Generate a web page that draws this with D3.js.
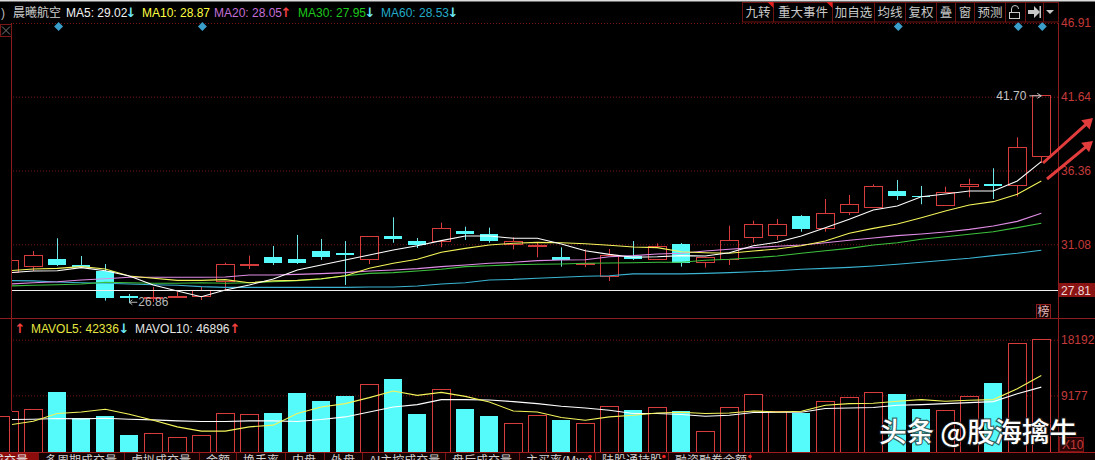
<!DOCTYPE html>
<html>
<head>
<meta charset="utf-8">
<script src="https://cdn.jsdelivr.net/npm/d3@7"></script>
<style>
  html, body { margin: 0; padding: 0; background: #000; overflow: hidden; }
  text { font-family: "Liberation Sans", "Noto Sans CJK SC", sans-serif; }
</style>
</head>
<body>
<div id="chart"></div>
<script>
// one entry per day, first day is cut off by the left axis
const opens = [29.03,29.48,30.01,29.60,29.17,27.38,27.20,27.31,27.38,28.40,29.55,30.15,30.03,30.58,30.46,29.98,31.67,31.29,31.27,32.01,31.82,31.08,30.91,30.17,29.60,28.79,30.22,30.01,31.10,29.79,29.96,31.58,31.72,33.10,32.20,33.34,33.73,34.89,34.51,33.84,35.20,35.37,35.30,37.35];
const closes = [29.89,30.31,29.60,29.48,27.26,27.24,27.27,27.38,27.77,29.60,29.60,29.76,29.74,30.19,30.34,31.65,31.46,31.03,32.22,31.82,31.34,31.31,30.96,29.96,29.67,30.27,30.03,30.91,29.76,30.15,31.37,32.51,32.51,32.20,33.30,33.94,35.23,34.56,34.44,34.80,35.37,35.25,37.99,41.70];
const highs = [29.89,30.60,31.51,30.24,29.67,27.52,28.02,27.69,28.02,29.76,30.27,30.96,31.75,31.46,31.31,31.65,33.01,31.53,32.63,32.34,32.27,31.58,31.19,30.86,30.72,30.74,31.31,31.15,31.17,30.15,32.41,32.77,32.89,33.17,34.32,34.61,35.37,35.68,35.25,35.20,35.77,36.52,38.73,41.70];
const lows = [29.03,29.17,29.53,29.46,27.05,26.86,26.95,27.24,27.10,27.81,29.31,29.60,29.67,29.96,28.17,29.67,31.19,30.81,30.87,31.39,31.19,30.72,30.15,29.48,29.44,28.45,29.96,30.01,29.48,29.41,29.60,31.19,31.39,31.98,31.98,33.17,33.73,34.25,33.94,33.84,34.44,34.32,34.49,36.90];

const ma5 = [29.05,29.17,29.19,29.41,29.19,28.81,28.17,27.74,27.33,27.81,28.17,28.60,29.24,29.60,29.96,30.31,30.67,30.98,31.34,31.67,31.67,31.51,31.51,31.10,30.62,30.36,30.15,30.19,30.27,30.24,30.48,30.98,31.22,31.67,32.27,32.87,33.53,33.82,34.48,34.68,34.89,34.89,35.61,36.99];
const ma10 = [29.19,29.31,29.36,29.48,29.31,28.81,28.65,28.50,28.50,28.55,28.33,28.46,28.50,28.62,28.83,29.36,29.72,30.01,30.51,30.79,31.03,31.15,31.22,31.19,31.12,31.01,30.89,30.84,30.55,30.48,30.44,30.60,30.74,30.98,31.31,31.87,32.22,32.53,32.98,33.46,33.89,34.13,34.66,35.61];
const ma20 = [28.24,28.33,28.40,28.53,28.62,28.72,28.72,28.72,28.72,28.74,28.88,28.88,28.93,28.98,29.05,29.17,29.24,29.34,29.48,29.60,29.72,29.79,29.91,29.96,29.97,30.19,30.27,30.39,30.44,30.60,30.72,30.84,30.94,31.03,31.19,31.37,31.53,31.70,31.82,31.96,32.15,32.39,32.72,33.30];
const ma30 = [28.10,28.15,28.19,28.24,28.36,28.33,28.29,28.29,28.33,28.29,28.33,28.40,28.48,28.60,28.83,29.00,29.05,29.17,29.29,29.48,29.55,29.62,29.65,29.67,29.72,29.74,29.76,29.79,29.79,29.94,30.01,30.12,30.24,30.44,30.62,30.79,31.03,31.19,31.44,31.62,31.80,31.98,32.27,32.58];
const ma60 = [28.48,28.46,28.38,28.33,28.29,28.24,28.19,28.15,28.05,28.00,28.00,28.00,28.00,28.00,28.00,28.03,28.03,28.10,28.24,28.33,28.53,28.57,28.65,28.72,28.79,28.83,28.96,28.96,28.96,29.00,29.05,29.12,29.19,29.29,29.36,29.43,29.53,29.65,29.79,29.94,30.08,30.27,30.44,30.65];

const volumes = [6488,6875,9660,5587,5796,2737,3011,2367,2689,6231,6005,6279,9499,8211,9016,10900,11753,6118,10095,6923,5796,4621,5909,5152,4621,7293,6762,7197,6601,3333,7197,9290,6488,6279,8163,8807,9612,9338,6923,6714,8968,11109,17597,18145];
const stubVolume = 5683;
const mavol5 = [4395,4991,6231,6488,6923,6118,5152,4073,3381,3381,4073,4347,6231,7293,7841,8807,9869,9177,9660,9016,8098,6649,6488,5587,5152,5683,5957,6327,6440,6231,6327,6649,6488,6601,7567,7841,7889,8211,8485,8211,8372,8485,10256,12397];
const mavol10 = [5265,5313,5426,5361,5474,5313,5200,5039,4943,4943,5039,5039,4943,5265,5683,6488,7293,7680,8485,8485,8420,8163,7841,7406,7132,6762,6231,6231,6070,5796,5957,6392,6440,6440,7036,7132,7197,7567,7680,7841,8002,8163,9451,10513];

const priceTicks = [46.91, 41.64, 36.36, 31.08];
const volumeTicks = [18192, 9177];
const basePrice = 27.81;

const days = d3.range(opens.length);

let width = 1095, height = 460,
    plotLeft = 12, plotRight = 1058,
    red = '#d63c3c', cyan = '#55fbfb', gridRed = '#7a1414', axisRed = '#8e1c1c', labelRed = '#c43a3a';

let svg = d3.select('#chart').append('svg')
    .attr('width', width)
    .attr('height', height)
    .style('display', 'block')
    .style('background', '#000');

svg.append('defs').append('clipPath')
    .attr('id', 'plot-clip')
    .append('rect')
    .attr('x', plotLeft)
    .attr('y', 0)
    .attr('width', plotRight - plotLeft)
    .attr('height', height);

let xScale = d3.scaleLinear()
    .domain([0, days.length - 1])
    .range([9.3, 1041.3]);

let priceScale = d3.scaleLinear()
    .domain([basePrice, 46.91])
    .range([290, 23]);

let volScale = d3.scaleLinear()
    .domain([0, 18192])
    .range([452, 339.7]);

let barW = 18;

svg.append('rect')
    .attr('width', width)
    .attr('height', 1.5)
    .attr('fill', '#ddd');

// grid lines
function drawGrid(scale, ticks) {
    let g = svg.append('g')
        .attr('transform', `translate(${plotRight}, 0)`)
        .call(d3.axisLeft(scale)
            .tickValues(ticks)
            .tickSize(plotRight - plotLeft)
            .tickFormat(''));
    g.select('.domain').remove();
    g.selectAll('line')
        .attr('stroke', gridRed)
        .attr('stroke-dasharray', '1,2');
}
drawGrid(priceScale, priceTicks);
drawGrid(volScale, volumeTicks);

// right hand labels
function drawLabels(scale, ticks) {
    let g = svg.append('g')
        .attr('transform', `translate(${plotRight}, 0)`)
        .call(d3.axisRight(scale)
            .tickValues(ticks)
            .tickSize(0)
            .tickPadding(3)
            .tickFormat(d => ticks === priceTicks ? d.toFixed(2) : d));
    g.select('.domain').remove();
    g.selectAll('text')
        .attr('fill', labelRed)
        .style('font-family', '"Liberation Sans"')
        .style('font-size', '12px');
}
drawLabels(priceScale, priceTicks);
drawLabels(volScale, volumeTicks);

let plot = svg.append('g').attr('clip-path', 'url(#plot-clip)');

// volume bars
plot.append('g').selectAll('rect')
    .data(days)
    .join('rect')
    .attr('x', i => xScale(i) - barW / 2)
    .attr('y', i => volScale(volumes[i]))
    .attr('width', barW)
    .attr('height', i => volScale(0) - volScale(volumes[i]))
    .attr('fill', i => closes[i] >= opens[i] ? '#000' : cyan)
    .attr('stroke', i => closes[i] >= opens[i] ? red : 'none')
    .attr('stroke-width', 1)
    .attr('shape-rendering', 'crispEdges');

// bit of the earlier volume bar left of the axis
svg.append('rect')
    .attr('x', -5)
    .attr('y', volScale(stubVolume))
    .attr('width', xScale(0) + 5)
    .attr('height', volScale(0) - volScale(stubVolume))
    .attr('fill', '#000')
    .attr('stroke', red)
    .attr('shape-rendering', 'crispEdges');

// candles
let candles = plot.append('g').selectAll('g')
    .data(days)
    .join('g');

candles.append('line')
    .attr('x1', i => Math.round(xScale(i)) + 0.5)
    .attr('x2', i => Math.round(xScale(i)) + 0.5)
    .attr('y1', i => priceScale(highs[i]))
    .attr('y2', i => priceScale(Math.max(opens[i], closes[i])))
    .attr('stroke', i => closes[i] >= opens[i] ? red : '#6ee6e6');

candles.append('line')
    .attr('x1', i => Math.round(xScale(i)) + 0.5)
    .attr('x2', i => Math.round(xScale(i)) + 0.5)
    .attr('y1', i => priceScale(Math.min(opens[i], closes[i])))
    .attr('y2', i => priceScale(lows[i]))
    .attr('stroke', i => closes[i] >= opens[i] ? red : '#6ee6e6');

candles.append('rect')
    .attr('x', i => xScale(i) - barW / 2)
    .attr('y', i => priceScale(Math.max(opens[i], closes[i])))
    .attr('width', barW)
    .attr('height', i => Math.max(1, Math.abs(priceScale(opens[i]) - priceScale(closes[i]))))
    .attr('fill', i => closes[i] >= opens[i] ? 'none' : cyan)
    .attr('stroke', i => closes[i] >= opens[i] ? red : 'none')
    .attr('shape-rendering', 'crispEdges');

// moving averages
function drawLine(values, scale, color, w) {
    plot.append('path')
        .datum(values)
        .attr('fill', 'none')
        .attr('stroke', color)
        .attr('stroke-width', w)
        .attr('d', d3.line().x((d, i) => xScale(i)).y(d => scale(d)));
}
drawLine(ma60, priceScale, '#3ab4d2', 1.1);
drawLine(ma30, priceScale, '#3cc03c', 1.1);
drawLine(ma20, priceScale, '#e08ce6', 1.1);
drawLine(ma10, priceScale, '#f4f45a', 1.1);
drawLine(ma5, priceScale, '#ffffff', 1.1);
drawLine(mavol10, volScale, '#ffffff', 1.1);
drawLine(mavol5, volScale, '#f4f45a', 1.1);

// base price line
svg.append('line')
    .attr('x1', plotLeft)
    .attr('x2', plotRight)
    .attr('y1', Math.round(priceScale(basePrice)) + 0.5)
    .attr('y2', Math.round(priceScale(basePrice)) + 0.5)
    .attr('stroke', '#f0f0f0');

// axes frame
svg.append('line').attr('x1', 11.5).attr('x2', 11.5).attr('y1', 23).attr('y2', 411).attr('stroke', axisRed);
svg.append('line').attr('x1', 1058.5).attr('x2', 1058.5).attr('y1', 23).attr('y2', 453).attr('stroke', axisRed);
svg.append('line').attr('x1', 0).attr('x2', width).attr('y1', 318.5).attr('y2', 318.5).attr('stroke', axisRed);

// base price tag
svg.append('rect').attr('x', 1059).attr('y', 283).attr('width', 36).attr('height', 14).attr('fill', '#8a1414');
svg.append('text').attr('x', 1061).attr('y', 294.5).attr('fill', '#f0d8d8').style('font-size', '12px').text(basePrice.toFixed(2));

// high and low notes
const highNote = '41.70', lowNote = '26.86';
let lastDay = days.length - 1, lowDay = 5;
svg.append('text')
    .attr('x', xScale(lastDay) - 45)
    .attr('y', priceScale(+highNote) + 4)
    .attr('fill', '#c4c4c4')
    .style('font-size', '12px')
    .text(highNote);
svg.append('path')
    .attr('d', `M${xScale(lastDay) - 12},${priceScale(+highNote)}h12m-4,-2.5l4,2.5l-4,2.5`)
    .attr('fill', 'none')
    .attr('stroke', '#c4c4c4');
svg.append('text')
    .attr('x', xScale(lowDay) + 9)
    .attr('y', priceScale(+lowNote) + 3)
    .attr('fill', '#b8b8b8')
    .style('font-size', '12px')
    .text(lowNote);
svg.append('path')
    .attr('d', `M${xScale(lowDay)},${priceScale(+lowNote) - 1}h8m-8,0l3,-2.5m-3,2.5l3,2.5`)
    .attr('fill', 'none')
    .attr('stroke', '#b8b8b8');

// header legend
const legendX = [13, 66, 142, 214, 298, 381];
const legendText = ['晨曦航空', 'MA5: 29.02', 'MA10: 28.87', 'MA20: 28.05', 'MA30: 27.95', 'MA60: 28.53'];
const legendColors = ['#cfcfcf', '#f2f2f2', '#ffff40', '#c46fd8', '#1ec81e', '#22aac8'];
const legendArrows = ['', '↓', '', '↑', '↓', '↓'];
const legendArrowX = [0, 131, 0, 286, 370, 453];

svg.append('text').attr('x', 1).attr('y', 17).attr('fill', '#bbb').style('font-size', '12px').text(')');
legendText.forEach((t, i) => {
    svg.append('text')
        .attr('x', legendX[i])
        .attr('y', 17)
        .attr('fill', legendColors[i])
        .style('font-size', '12px')
        .text(t);
    if (legendArrows[i]) {
        svg.append('text')
            .attr('x', legendArrowX[i])
            .attr('y', 17)
            .attr('text-anchor', 'middle')
            .attr('fill', legendArrows[i] === '↑' ? '#f04040' : '#6fe8f8')
            .style('font-family', '"DejaVu Sans"')
            .style('font-size', '13px')
            .style('font-weight', 'bold')
            .text(legendArrows[i]);
    }
});

// volume legend
const volLegendX = [31, 135];
const volLegendText = ['MAVOL5: 42336', 'MAVOL10: 46896'];
const volLegendColors = ['#e6e640', '#e4e4e4'];
const volArrows = ['↓', '↑'];
const volArrowX = [124, 235];
svg.append('text').attr('x', 20).attr('y', 333).attr('text-anchor', 'middle').attr('fill', '#f04040').style('font-family', '"DejaVu Sans"').style('font-size', '13px').style('font-weight', 'bold').text('↑');
volLegendText.forEach((t, i) => {
    svg.append('text').attr('x', volLegendX[i]).attr('y', 333).attr('fill', volLegendColors[i]).style('font-size', '12px').text(t);
    svg.append('text').attr('x', volArrowX[i]).attr('y', 333).attr('text-anchor', 'middle')
        .attr('fill', volArrows[i] === '↑' ? '#f04040' : '#6fe8f8')
        .style('font-family', '"DejaVu Sans"')
        .style('font-size', '13px').style('font-weight', 'bold').text(volArrows[i]);
});

// diamonds above the chart
const eventX = [58.6, 202.4, 898.3, 1018.3, 1042.3];
svg.append('g').selectAll('path')
    .data(eventX)
    .join('path')
    .attr('d', d3.symbol(d3.symbolSquare, 40))
    .attr('transform', d => `translate(${d}, 26.5) rotate(45)`)
    .attr('fill', '#3b9fcb');

// toolbar
const toolEdges = [742.5, 773.5, 832.5, 874.5, 905.5, 936.5, 955.5, 974.5, 1005.5, 1025.5, 1043.5, 1058.5];
const toolLabels = ['九转', '重大事件', '加自选', '均线', '复权', '叠', '窗', '预测', '', '', ''];
toolLabels.forEach((t, i) => {
    svg.append('rect')
        .attr('x', toolEdges[i])
        .attr('y', 2.5)
        .attr('width', toolEdges[i + 1] - toolEdges[i])
        .attr('height', 19.5)
        .attr('fill', '#000')
        .attr('stroke', '#6e1212');
    if (t) {
        svg.append('text')
            .attr('x', (toolEdges[i] + toolEdges[i + 1]) / 2)
            .attr('y', 17)
            .attr('text-anchor', 'middle')
            .attr('fill', '#c8c8c8')
            .style('font-size', '12.5px')
            .text(t);
    }
});
[773.5, 832.5].forEach(e => {
    svg.append('path').attr('d', `M${e - 6},2H${e}V8Z`).attr('fill', '#e02020');
});
// lock, jump and menu icons
svg.append('rect').attr('x', 1009.5).attr('y', 12.5).attr('width', 10).attr('height', 6).attr('fill', 'none').attr('stroke', '#c8c8c8');
svg.append('path').attr('d', 'M1011.5,12V9a3.5,3.5 0 0 1 7,0').attr('fill', 'none').attr('stroke', '#c8c8c8');
svg.append('path').attr('d', 'M1028,10h6v-4l6,6l-6,6v-4h-6Z').attr('fill', '#c8c8c8');
svg.append('rect').attr('x', 1039.5).attr('y', 6).attr('width', 1.5).attr('height', 12).attr('fill', '#c8c8c8');
svg.append('path').attr('d', 'M1046,10h8l-4,4Z').attr('fill', '#c8c8c8');

// small close box at the left
svg.append('rect').attr('x', 0.5).attr('y', 24.5).attr('width', 11).attr('height', 12).attr('fill', 'none').attr('stroke', '#7a1818');
svg.append('path').attr('d', 'M2,26.5l8,8m0,-8l-8,8').attr('stroke', '#777');

// badge
svg.append('rect').attr('x', 1036.5).attr('y', 304.5).attr('width', 14).attr('height', 14).attr('fill', '#1c0303').attr('stroke', '#8e1c1c');
svg.append('text').attr('x', 1043.5).attr('y', 316).attr('text-anchor', 'middle').attr('fill', '#e0b8b8').style('font-size', '12px').text('榜');

// X10 box
svg.append('rect').attr('x', 1059.5).attr('y', 437.5).attr('width', 24).attr('height', 14).attr('fill', '#2a0505').attr('stroke', '#7a1414');
svg.append('text').attr('x', 1062).attr('y', 449).attr('fill', labelRed).style('font-size', '12px').text('X10');

// hand drawn arrows
function drawArrow(x1, y1, x2, y2) {
    let a = Math.atan2(y2 - y1, x2 - x1), len = 12, sp = 0.55;
    svg.append('line').attr('x1', x1).attr('y1', y1)
        .attr('x2', x2 - Math.cos(a) * 6).attr('y2', y2 - Math.sin(a) * 6)
        .attr('stroke', '#e23c3c').attr('stroke-width', 3);
    svg.append('path')
        .attr('d', `M${x2},${y2}L${x2 - len * Math.cos(a - sp)},${y2 - len * Math.sin(a - sp)}L${x2 - len * Math.cos(a + sp)},${y2 - len * Math.sin(a + sp)}Z`)
        .attr('fill', '#e23c3c');
}
drawArrow(1043, 163, 1093, 118);
drawArrow(1047, 179, 1093, 141);

// bottom tabs
const tabEdges = [38, 124, 199, 236, 285, 324, 362, 445, 519, 595, 668, 750];
const tabLabels = ['多周期成交量', '虚拟成交量', '金额', '换手率', '内盘', '外盘', 'AI主控成交量', '盘后成交量', '主买率(Mxx)', '陆股通持股', '融资融券余额'];
const tabDots = [590, 664, 750];
svg.append('rect').attr('x', 0).attr('y', 453).attr('width', width).attr('height', 7).attr('fill', '#120202');
svg.append('rect').attr('x', 0).attr('y', 453).attr('width', tabEdges[0]).attr('height', 7).attr('fill', '#8c0c0c');
svg.append('line').attr('x1', 0).attr('x2', width).attr('y1', 452.5).attr('y2', 452.5).attr('stroke', '#a01c1c');
svg.append('text').attr('x', -8).attr('y', 465).attr('fill', '#e8e8e8').style('font-size', '12px').text('成交量');
tabLabels.forEach((t, i) => {
    svg.append('text')
        .attr('x', tabEdges[i] + 7)
        .attr('y', 465)
        .attr('fill', '#d0d0d0')
        .style('font-size', '12px')
        .text(t);
});
tabEdges.forEach(e => {
    svg.append('line').attr('x1', e + 0.5).attr('x2', e + 0.5).attr('y1', 453).attr('y2', 460).attr('stroke', '#7a1414');
});
tabDots.forEach(d => {
    svg.append('circle').attr('cx', d).attr('cy', 456.5).attr('r', 1.8).attr('fill', '#f02020');
});

// watermark
svg.append('text')
    .attr('x', 879)
    .attr('y', 442)
    .attr('fill', '#fff')
    .style('font-family', '"Noto Sans CJK SC"')
    .style('font-size', '27.5px')
    .style('font-weight', 500)
    .style('paint-order', 'stroke')
    .style('stroke', 'rgba(30,30,30,0.7)')
    .style('stroke-width', '2.5px')
    .text('头条 @股海擒牛');
</script>
</body>
</html>
